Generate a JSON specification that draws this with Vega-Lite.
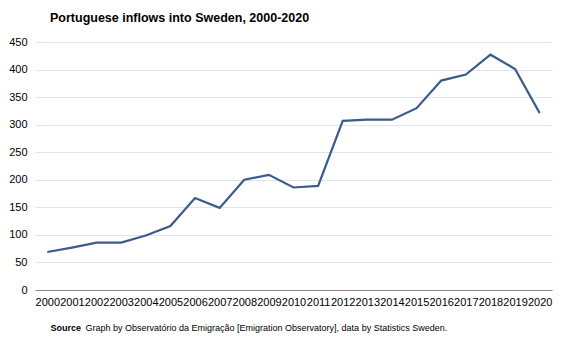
{
  "$schema": "https://vega.github.io/schema/vega-lite/v6.json",
  "width": 517,
  "height": 248,
  "autosize": {"type": "none"},
  "padding": {"left": 35, "top": 42, "right": 15, "bottom": 50},
  "background": "white",
  "title": {
    "text": "Portuguese inflows into Sweden, 2000-2020",
    "anchor": "start",
    "frame": "group",
    "dx": 15,
    "offset": 12,
    "font": "Liberation Sans",
    "fontSize": 12.5,
    "fontWeight": "bold",
    "color": "#000000"
  },
  "config": {
    "view": {"stroke": null},
    "font": "Liberation Sans"
  },
  "data": {
    "values": [
      {"year": "2000", "inflows": 69},
      {"year": "2001", "inflows": 77},
      {"year": "2002", "inflows": 86},
      {"year": "2003", "inflows": 86},
      {"year": "2004", "inflows": 99},
      {"year": "2005", "inflows": 116},
      {"year": "2006", "inflows": 167},
      {"year": "2007", "inflows": 149},
      {"year": "2008", "inflows": 200},
      {"year": "2009", "inflows": 209},
      {"year": "2010", "inflows": 186},
      {"year": "2011", "inflows": 189},
      {"year": "2012", "inflows": 307},
      {"year": "2013", "inflows": 309},
      {"year": "2014", "inflows": 309},
      {"year": "2015", "inflows": 330},
      {"year": "2016", "inflows": 380},
      {"year": "2017", "inflows": 391},
      {"year": "2018", "inflows": 427},
      {"year": "2019", "inflows": 401},
      {"year": "2020", "inflows": 321}
    ]
  },
  "mark": {"type": "line", "color": "#3b5b8a", "strokeWidth": 2.2},
  "encoding": {
    "x": {
      "field": "year",
      "type": "ordinal",
      "scale": {"type": "point", "padding": 0.5},
      "axis": {
        "labelAngle": 0,
        "labelFontSize": 11,
        "labelColor": "#000000",
        "labelPadding": 6,
        "ticks": false,
        "domainColor": "#888888",
        "domainWidth": 1,
        "grid": false,
        "title": "Graph by Observatório da Emigração [Emigration Observatory], data by Statistics Sweden.",
        "titleFontSize": 9,
        "titleFontWeight": "normal",
        "titleColor": "#000000",
        "titleAnchor": "start",
        "titleAlign": "left",
        "titleBaseline": "alphabetic",
        "titleX": 50,
        "titleY": 40
      }
    },
    "y": {
      "field": "inflows",
      "type": "quantitative",
      "scale": {"domain": [0, 450]},
      "axis": {
        "values": [0, 50, 100, 150, 200, 250, 300, 350, 400, 450],
        "labelFontSize": 11,
        "labelColor": "#000000",
        "labelPadding": 8,
        "ticks": false,
        "domain": false,
        "grid": true,
        "gridColor": "#dfe5ec",
        "gridWidth": 1,
        "title": "Source",
        "titleFontSize": 9,
        "titleFontWeight": "bold",
        "titleColor": "#000000",
        "titleAngle": 0,
        "titleAlign": "left",
        "titleBaseline": "alphabetic",
        "titleX": 15,
        "titleY": 288
      }
    }
  }
}
